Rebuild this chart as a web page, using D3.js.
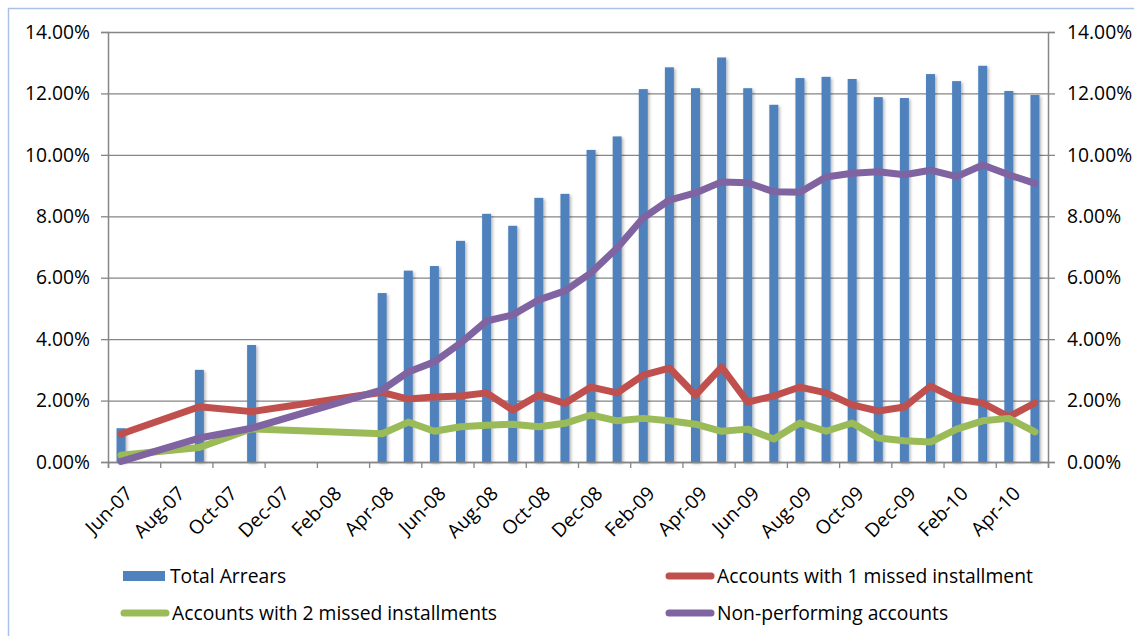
<html>
<script src="https://d3js.org/d3.v7.min.js"></script>
<style>
body { margin: 0; background: #fff; }
text { font-family: "Open Sans", "Noto Sans", sans-serif; fill: #000; }
</style>
<body>
<div id="chart"></div>
<script>
var months = ["Jun-07","Jul-07","Aug-07","Sep-07","Oct-07","Nov-07","Dec-07","Jan-08","Feb-08","Mar-08",
  "Apr-08","May-08","Jun-08","Jul-08","Aug-08","Sep-08","Oct-08","Nov-08","Dec-08","Jan-09",
  "Feb-09","Mar-09","Apr-09","May-09","Jun-09","Jul-09","Aug-09","Sep-09","Oct-09","Nov-09",
  "Dec-09","Jan-10","Feb-10","Mar-10","Apr-10","May-10"];

// values in percent, null = no observation
var totalArrears = [1.1, null, null, 3.0, null, 3.81, null, null, null, null,
  5.5, 6.23, 6.38, 7.2, 8.08, 7.69, 8.6, 8.73, 10.16, 10.6,
  12.14, 12.85, 12.17, 13.17, 12.17, 11.63, 12.5, 12.54, 12.47, 11.88,
  11.85, 12.63, 12.4, 12.9, 12.08, 11.95];
var oneMissed = [0.91, null, null, 1.8, null, 1.64, null, null, null, null,
  2.27, 2.05, 2.12, 2.15, 2.25, 1.69, 2.18, 1.91, 2.44, 2.25,
  2.83, 3.06, 2.18, 3.09, 1.95, 2.15, 2.44, 2.25, 1.86, 1.66,
  1.79, 2.47, 2.05, 1.92, 1.47, 1.92];
var twoMissed = [0.22, null, null, 0.47, null, 1.08, null, null, null, null,
  0.92, 1.3, 1.0, 1.15, 1.2, 1.23, 1.15, 1.26, 1.53, 1.34,
  1.42, 1.34, 1.23, 1.0, 1.07, 0.75, 1.27, 1.0, 1.27, 0.78,
  0.69, 0.65, 1.07, 1.34, 1.42, 0.98];
var nonPerforming = [0.02, null, null, 0.78, null, 1.1, null, null, null, null,
  2.35, 2.93, 3.26, 3.87, 4.59, 4.79, 5.28, 5.57, 6.16, 6.97,
  7.95, 8.53, 8.76, 9.12, 9.09, 8.8, 8.78, 9.28, 9.4, 9.45,
  9.35, 9.5, 9.29, 9.67, 9.35, 9.07];
var yTicks = [0, 2, 4, 6, 8, 10, 12, 14];

var lineSeries = [
  {name: "Accounts with 1 missed installment", values: oneMissed, color: "#C0504D"},
  {name: "Accounts with 2 missed installments", values: twoMissed, color: "#9BBB59"},
  {name: "Non-performing accounts", values: nonPerforming, color: "#8064A2"}
];

var W = 1134, H = 636;
var margin = {top: 32, right: 86, bottom: 174, left: 108};
var width = W - margin.left - margin.right,
    height = H - margin.top - margin.bottom;
var fontSize = "19.3px";

var svg = d3.select("#chart").append("svg")
  .attr("width", W).attr("height", H);

var defs = svg.append("defs");
var f = defs.append("filter").attr("id", "shadow")
  .attr("x", "-50%").attr("y", "-10%").attr("width", "200%").attr("height", "120%");
f.append("feDropShadow").attr("dx", 1.5).attr("dy", 1.5).attr("stdDeviation", 1.8)
  .attr("flood-color", "#000").attr("flood-opacity", 0.3);

// chart area border
svg.append("rect").attr("x", 8.5).attr("y", 8.5).attr("width", W + 20).attr("height", H + 20)
  .attr("fill", "none").attr("stroke", "#A9C1E8").attr("stroke-width", 1.5);

var g = svg.append("g").attr("transform", "translate(" + margin.left + "," + margin.top + ")");

var x = d3.scaleBand().domain(months).range([0, width]).padding(0);
var xi = d3.scaleLinear().domain([0, months.length]).range([0, width]);
var y = d3.scaleLinear().domain([0, 14]).range([height, 0]);
var fmt = function(d) { return d.toFixed(2) + "%"; };

// gridlines
g.append("g").attr("class", "grid")
  .call(d3.axisLeft(y).tickValues(yTicks).tickSize(-width).tickFormat(""))
  .call(s => s.select(".domain").remove())
  .selectAll("line").attr("stroke", "#868686").attr("stroke-width", 1.3);

// left axis
var yl = g.append("g")
  .call(d3.axisLeft(y).tickValues(yTicks).tickSize(7).tickPadding(11).tickFormat(fmt));
// right axis
var yr = g.append("g").attr("transform", "translate(" + width + ",0)")
  .call(d3.axisRight(y).tickValues(yTicks).tickSize(7).tickPadding(12).tickFormat(fmt));
[yl, yr].forEach(function(a) {
  a.select(".domain").attr("stroke", "#868686").attr("stroke-width", 1.5);
  a.selectAll("line").attr("stroke", "#868686").attr("stroke-width", 1.3);
  a.selectAll("text").style("font-size", fontSize).style("font-family", "'Open Sans', sans-serif").attr("fill", "#000");
});

// bars
var bw = 9;
g.append("g").attr("filter", "url(#shadow)")
  .selectAll("rect")
  .data(months.map((m, i) => ({m: m, v: totalArrears[i]})).filter(d => d.v != null))
  .enter().append("rect")
  .attr("x", d => x(d.m) + x.bandwidth() / 2 - bw / 2)
  .attr("y", d => y(d.v))
  .attr("width", bw)
  .attr("height", d => height - y(d.v))
  .attr("fill", "#4F81BD");

// x axis
var xa = g.append("g").attr("transform", "translate(0," + height + ")")
  .call(d3.axisBottom(xi).tickValues(d3.range(0, months.length + 1, 2)).tickSize(6).tickFormat(""));
xa.select(".domain").attr("stroke", "#868686").attr("stroke-width", 1.5);
xa.selectAll("line").attr("stroke", "#868686").attr("stroke-width", 1.3);

g.append("g").selectAll("text")
  .data(months.filter((m, i) => i % 2 === 0))
  .enter().append("text")
  .attr("transform", d => "translate(" + (x(d) + x.bandwidth() / 2 + 8) + "," + (height + 28) + ") rotate(-45)")
  .attr("text-anchor", "end")
  .attr("dy", "0.35em")
  .style("font-size", fontSize)
  .text(d => d);

// lines
var line = d3.line()
  .x(d => x(d.m) + x.bandwidth() / 2)
  .y(d => y(d.v));

lineSeries.forEach(function(s) {
  var pts = months.map((m, i) => ({m: m, v: s.values[i]})).filter(d => d.v != null);
  g.append("path")
    .datum(pts)
    .attr("d", line)
    .attr("fill", "none")
    .attr("stroke", s.color)
    .attr("stroke-width", 7)
    .attr("stroke-linejoin", "round")
    .attr("stroke-linecap", "round");
});

// legend
var legend = [
  {name: "Total Arrears", color: "#4F81BD", type: "bar", x: 123, y: 576},
  {name: lineSeries[0].name, color: lineSeries[0].color, type: "line", x: 665, y: 576},
  {name: lineSeries[1].name, color: lineSeries[1].color, type: "line", x: 120, y: 613},
  {name: lineSeries[2].name, color: lineSeries[2].color, type: "line", x: 665, y: 613}
];
var lg = svg.append("g").selectAll("g").data(legend).enter().append("g");
lg.each(function(d) {
  var s = d3.select(this);
  if (d.type === "bar") {
    s.append("rect").attr("x", d.x).attr("y", d.y - 5).attr("width", 42).attr("height", 10).attr("fill", d.color);
  } else {
    s.append("line").attr("x1", d.x + 4).attr("x2", d.x + 46).attr("y1", d.y).attr("y2", d.y)
      .attr("stroke", d.color).attr("stroke-width", 7).attr("stroke-linecap", "round");
  }
  s.append("text").attr("x", d.x + (d.type === "bar" ? 47 : 52)).attr("y", d.y).attr("dy", "0.35em")
    .style("font-size", fontSize).text(d.name);
});
</script>
</body>
</html>
